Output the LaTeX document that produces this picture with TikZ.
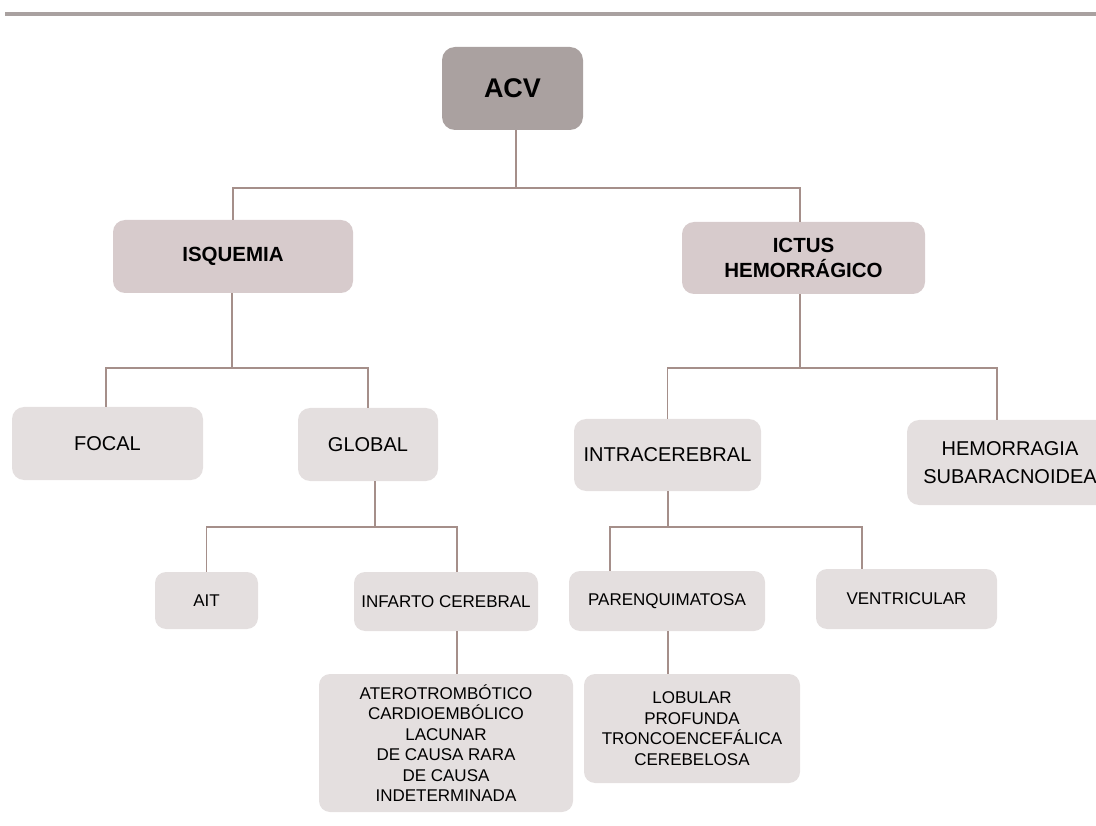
\documentclass[tikz,border=0pt]{standalone}
\usepackage{fontspec}
\setmainfont{Liberation Sans}
\usetikzlibrary{positioning}
\definecolor{rootfill}{HTML}{AAA1A0}
\definecolor{mainfill}{HTML}{D7CBCC}
\definecolor{subfill}{HTML}{E4DFDF}
\definecolor{linkcol}{HTML}{A58F8A}
\definecolor{rulecol}{HTML}{A9A1A0}

\begin{document}
\begin{tikzpicture}[x=1pt,y=-1pt,
	root box/.style={fill=rootfill, rounded corners=13pt, inner sep=0pt, align=center,
		font=\fontsize{27}{30}\selectfont\bfseries},
	main box/.style={fill=mainfill, rounded corners=12pt, inner sep=0pt, align=center,
		font=\fontsize{20.5}{25}\selectfont\bfseries},
	big box/.style={fill=subfill, rounded corners=12pt, inner sep=0pt, align=center,
		font=\fontsize{20}{28}\selectfont},
	small box/.style={fill=subfill, rounded corners=11pt, inner sep=0pt, align=center,
		font=\fontsize{17}{20.5}\selectfont},
	link/.style={draw=linkcol, line width=1.4pt}]
	\useasboundingbox (0,0) rectangle (1096,826);
	\draw[rulecol, line width=4pt] (5,14) -- (1096,14);
	% boxes
	\node[root box, minimum width=141, minimum height=83] (acv) at (512.5,88.5) {ACV};
	\node[main box, minimum width=240, minimum height=73] (isq) at (233,256.5) {ISQUEMIA};
	\node[main box, minimum width=243, minimum height=72] (ict) at (803.5,258) {ICTUS\\HEMORRÁGICO};
	\node[big box, minimum width=191, minimum height=73] (focal) at (107.5,443.5) {FOCAL};
	\node[big box, minimum width=140, minimum height=73] (global) at (368,444.5) {GLOBAL};
	\node[big box, minimum width=187, minimum height=72] (intra) at (667.5,455) {INTRACEREBRAL};
	\node[big box, minimum width=206, minimum height=85] (hemo) at (1010,462.5) {HEMORRAGIA\\SUBARACNOIDEA};
	\node[small box, minimum width=103, minimum height=57] (ait) at (206.5,600.5) {AIT};
	\node[small box, minimum width=184, minimum height=59] (infarto) at (446,601.5) {INFARTO CEREBRAL};
	\node[small box, minimum width=254, minimum height=138] (tipos) at (446,743)
		{ATEROTROMBÓTICO\\CARDIOEMBÓLICO\\LACUNAR\\DE CAUSA RARA\\DE CAUSA\\INDETERMINADA};
	\node[small box, minimum width=196, minimum height=60] (parenq) at (667,601) {PARENQUIMATOSA};
	\node[small box, minimum width=181, minimum height=60] (vent) at (906.5,599) {VENTRICULAR};
	\node[small box, minimum width=216, minimum height=109] (sitios) at (692,728.5)
		{LOBULAR\\PROFUNDA\\TRONCOENCEFÁLICA\\CEREBELOSA};
	% junctions
	\coordinate (j1) at (516,188);
	\coordinate (j2) at (232,368);
	\coordinate (j3) at (375,527);
	\coordinate (j4) at (800,368);
	\coordinate (j5) at (668,527);
	% connectors
	\draw[link] (acv.south -| j1) -- (j1) -| (isq.north);
	\draw[link] (j1) -| ([xshift=-3.5pt]ict.north);
	\draw[link] (isq.south -| j2) -- (j2) -| ([xshift=-1.5pt]focal.north);
	\draw[link] (j2) -| (global.north);
	\draw[link] (global.south -| j3) -- (j3) -| (ait.north);
	\draw[link] (j3) -| ([xshift=11pt]infarto.north);
	\draw[link] ([xshift=11pt]infarto.south) -- ([xshift=11pt]tipos.north);
	\draw[link] (ict.south -| j4) -- (j4) -| (intra.north);
	\draw[link] (j4) -| ([xshift=-13pt]hemo.north);
	\draw[link] (intra.south -| j5) -- (j5) -| ([xshift=-57pt]parenq.north);
	\draw[link] (j5) -| ([xshift=-44.5pt]vent.north);
	\draw[link] ([xshift=1pt]parenq.south) -- ([xshift=-24pt]sitios.north);
\end{tikzpicture}
\end{document}
